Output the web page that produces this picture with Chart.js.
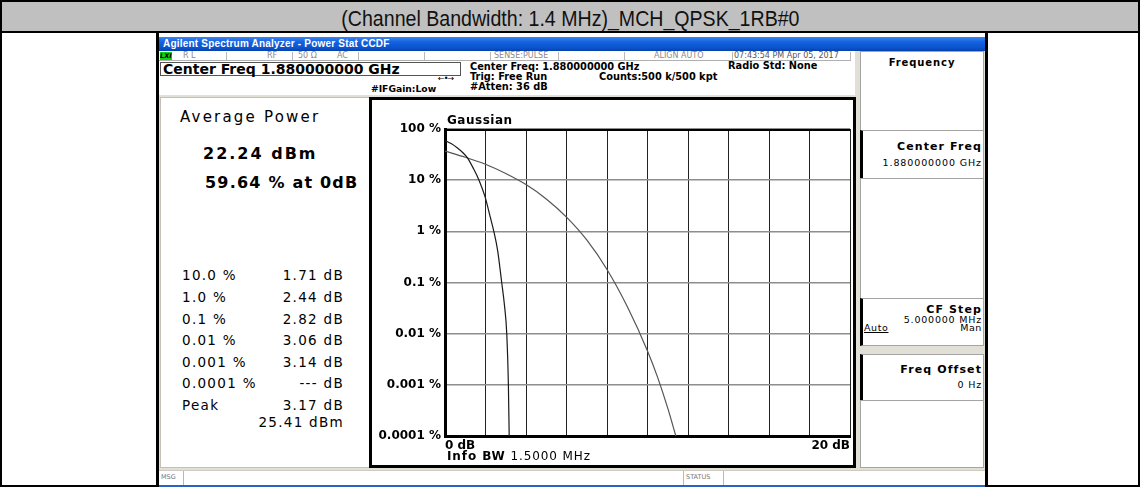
<!DOCTYPE html>
<html>
<head>
<meta charset="utf-8">
<script src="https://cdn.jsdelivr.net/npm/chart.js@4.4.1/dist/chart.umd.min.js"></script>
<style>
  body { margin: 0; width: 1140px; height: 487px; overflow: hidden; background: #fff; position: relative; font-family: "DejaVu Sans", sans-serif; color: #000; }
  .t { position: absolute; white-space: nowrap; line-height: 1; }
  .r { text-align: right; }
  .b { font-weight: bold; }
  .box { position: absolute; box-sizing: border-box; }
  .st { position: absolute; top: 51px; height: 10px; font-size: 8px; line-height: 10px; color: #8a8a8a; white-space: nowrap; }
  .sep { position: absolute; width: 1px; background: #b8b8b8; }
  .sk { position: absolute; left: 860px; width: 124px; box-sizing: border-box; background: #fff; border: 1px solid #a4a4a4; }
  .sk.on { border-left: 3px solid #000; }
</style>
</head>
<body>
<!-- report table frame -->
<div class="box" style="left:0;top:0;width:1140px;height:487px;border:2px solid #000;"></div>
<div class="box" style="left:0;top:0;width:1140px;height:33px;background:#c0c0c0;border:2px solid #000;"></div>
<div class="t" style="left:0;top:8px;width:1140px;text-align:center;">
  <span style="display:inline-block;font-family:'Liberation Sans',Arial,sans-serif;font-size:22px;transform:scaleX(0.89);color:#111;">(Channel Bandwidth: 1.4 MHz)_MCH_QPSK_1RB#0</span>
</div>
<div class="box" style="left:156px;top:31px;width:3px;height:456px;background:#000;"></div>
<div class="box" style="left:985px;top:31px;width:3px;height:456px;background:#000;"></div>

<!-- analyzer window -->
<div class="box" style="left:159px;top:37px;width:826px;height:14px;background:linear-gradient(#3c86f2,#1462e0 35%,#0a52cc 80%,#0840a8);"></div>
<div class="t b" style="left:163px;top:39px;font-size:10px;color:#fff;font-family:'Liberation Sans',Arial,sans-serif;letter-spacing:0.2px;">Agilent Spectrum Analyzer - Power Stat CCDF</div>

<!-- status row -->
<div class="box" style="left:159px;top:51px;width:692px;height:10px;border-bottom:1px solid #b0b0b0;"></div>
<div class="box" style="left:160px;top:52px;width:12px;height:8px;background:#10d010;"></div>
<div class="t b" style="left:160px;top:53px;font-size:6.5px;font-style:italic;">LXI</div>
<div class="st" style="left:183px;">R L</div>
<div class="st" style="left:267px;">RF</div>
<div class="st" style="left:298px;">50 Ω</div>
<div class="st" style="left:337px;">AC</div>
<div class="st" style="left:494px;">SENSE:PULSE</div>
<div class="st" style="left:654px;">ALIGN AUTO</div>
<div class="st" style="left:734px;color:#555;">07:43:54 PM Apr 05, 2017</div>
<div class="sep" style="left:226px;top:52px;height:9px;"></div>
<div class="sep" style="left:292px;top:52px;height:9px;"></div>
<div class="sep" style="left:358px;top:52px;height:9px;"></div>
<div class="sep" style="left:424px;top:52px;height:9px;"></div>
<div class="sep" style="left:490px;top:52px;height:9px;"></div>
<div class="sep" style="left:558px;top:52px;height:9px;"></div>
<div class="sep" style="left:624px;top:52px;height:9px;"></div>
<div class="sep" style="left:732px;top:52px;height:9px;"></div>
<div class="sep" style="left:850px;top:52px;height:9px;"></div>

<!-- header info -->
<div class="box" style="left:160px;top:62px;width:301px;height:14px;border:1px solid #555;"></div>
<div class="t b" style="left:163px;top:62px;font-size:14px;">Center Freq 1.880000000 GHz</div>
<div class="t b" style="left:470px;top:62px;font-size:9.8px;">Center Freq: 1.880000000 GHz</div>
<div class="t b" style="left:470px;top:72px;font-size:9.8px;">Trig: Free Run</div>
<div class="t b" style="left:470px;top:82px;font-size:9.8px;">#Atten: 36 dB</div>
<div class="t b" style="left:599px;top:72px;font-size:9.8px;">Counts:500 k/500 kpt</div>
<div class="t b" style="left:728px;top:61px;font-size:9.8px;">Radio Std: None</div>
<div class="t b" style="left:371px;top:84px;font-size:9.2px;">#IFGain:Low</div>
<div class="t" style="left:438px;top:75px;font-size:8px;letter-spacing:-1px;">←•→</div>

<!-- body background -->
<div class="box" style="left:855px;top:51px;width:130px;height:419px;background:#e2dfd6;"></div>
<div class="box" style="left:159px;top:95px;width:700px;height:375px;background:#e2dfd6;"></div>

<!-- left results panel -->
<div class="box" style="left:160px;top:97px;width:210px;height:371px;background:#fff;border:1px solid #c4c0b6;"></div>
<div class="t" style="left:180px;top:110px;font-size:15px;letter-spacing:2.2px;">Average Power</div>
<div class="t b" style="left:203px;top:146px;font-size:16px;letter-spacing:2px;">22.24 dBm</div>
<div class="t b" style="left:205px;top:175px;font-size:16px;letter-spacing:1.2px;">59.64 % at 0dB</div>
<div id="rows"></div>

<!-- chart box -->
<div class="box" style="left:369px;top:97px;width:487px;height:371px;background:#fff;border:3px solid #000;"></div>
<canvas id="ccdf" width="481" height="365" style="position:absolute;left:372px;top:100px;"></canvas>
<div class="t b" style="left:447px;top:114px;font-size:12px;letter-spacing:0.5px;">Gaussian</div>
<div class="t" style="left:447px;top:450px;font-size:12px;letter-spacing:0.9px;"><b>Info BW</b> 1.5000 MHz</div>

<!-- softkeys -->
<div class="sk" style="top:51px;height:80px;"></div>
<div class="t b" style="left:860px;width:124px;text-align:center;top:58px;font-size:10px;letter-spacing:0.9px;">Frequency</div>
<div class="sk on" style="top:130px;height:49px;"></div>
<div class="t b r" style="right:158px;top:141px;font-size:11px;letter-spacing:1.1px;">Center Freq</div>
<div class="t r" style="right:158px;top:158px;font-size:9.5px;letter-spacing:0.9px;">1.880000000 GHz</div>
<div class="sk" style="top:178px;height:121px;"></div>
<div class="sk on" style="top:298px;height:48px;"></div>
<div class="t b r" style="right:158px;top:304px;font-size:11px;letter-spacing:1.1px;">CF Step</div>
<div class="t r" style="right:158px;top:315px;font-size:9.5px;letter-spacing:0.8px;">5.000000 MHz</div>
<div class="t" style="left:864px;top:323px;font-size:9.5px;text-decoration:underline;letter-spacing:0.6px;">Auto</div>
<div class="t r" style="right:158px;top:323px;font-size:9.5px;letter-spacing:0.6px;">Man</div>
<div class="sk on" style="top:354px;height:47px;"></div>
<div class="t b r" style="right:158px;top:364px;font-size:11px;letter-spacing:1.1px;">Freq Offset</div>
<div class="t r" style="right:158px;top:380px;font-size:9.5px;letter-spacing:0.8px;">0 Hz</div>
<div class="sk" style="top:400px;height:68px;"></div>

<!-- bottom message bar -->
<div class="box" style="left:159px;top:470px;width:826px;height:15px;background:#fff;border-top:1px solid #cfcbc2;"></div>
<div class="t" style="left:161px;top:474px;font-size:6.5px;color:#777;">MSG</div>
<div class="sep" style="left:183px;top:471px;height:14px;"></div>
<div class="t" style="left:686px;top:474px;font-size:6.5px;color:#777;">STATUS</div>
<div class="sep" style="left:683px;top:471px;height:14px;"></div>
<div class="sep" style="left:723px;top:471px;height:14px;"></div>
<div class="box" style="left:159px;top:485px;width:826px;height:2px;background:#2a62c4;"></div>

<script>
// percentile table on the left panel
const rowLabels = ['10.0 %', '1.0 %', '0.1 %', '0.01 %', '0.001 %', '0.0001 %', 'Peak', ''];
const rowValues = ['1.71 dB', '2.44 dB', '2.82 dB', '3.06 dB', '3.14 dB', '--- dB', '3.17 dB', '25.41 dBm'];

// plot axes
const xTicks = [0, 2, 4, 6, 8, 10, 12, 14, 16, 18, 20];
const xTickLabels = { 0: '0 dB', 20: '20 dB' };
const yTicks = [100, 10, 1, 0.1, 0.01, 0.001, 0.0001];
const yTickLabels = ['100 %', '10 %', '1 %', '0.1 %', '0.01 %', '0.001 %', '0.0001 %'];

// measured CCDF trace (dB above average, % probability)
const measDb  = [0, 0.3, 0.6, 0.9, 1.1, 1.4, 1.68, 1.98, 2.22, 2.41, 2.6, 2.8, 2.94, 3.05, 3.13, 3.17];
const measPct = [59.64, 52, 43, 34, 27.5, 17, 10, 4.7, 2.0, 1.0, 0.42, 0.1, 0.035, 0.01, 0.001, 0.0001];

// gaussian reference trace
const gaussDb  = [0, 1, 2, 3, 4, 5, 6, 7, 8, 9, 10, 10.5, 11, 11.4];
const gaussPct = [37, 28, 20.5, 13.5, 8.2, 4.3, 1.9, 0.68, 0.18, 0.034, 0.0046, 0.0014, 0.00035, 0.0001];

const rowY = [276, 298, 319.5, 341, 362.5, 384, 406, 423];
const rows = document.getElementById('rows');
rowLabels.forEach((lab, i) => {
  const top = (rowY[i] - 7) + 'px';
  if (lab) {
    const l = document.createElement('div');
    l.className = 't';
    l.style.cssText = `left:182px;top:${top};font-size:13.5px;letter-spacing:1.3px;`;
    l.textContent = lab;
    rows.appendChild(l);
  }
  const v = document.createElement('div');
  v.className = 't r';
  v.style.cssText = `right:796px;top:${top};font-size:13.5px;letter-spacing:1.3px;`;
  v.textContent = rowValues[i];
  rows.appendChild(v);
});

const frame = {
  id: 'frame',
  afterDraw(c) {
    const { ctx, chartArea: a } = c;
    ctx.save();
    ctx.strokeStyle = '#000';
    ctx.lineWidth = 2;
    ctx.beginPath();
    ctx.moveTo(a.left, a.top + 1);
    ctx.lineTo(a.right, a.top + 1);
    ctx.stroke();
    ctx.restore();
  }
};

const tickFont = { family: 'DejaVu Sans', size: 12, weight: 'bold' };

new Chart(document.getElementById('ccdf').getContext('2d'), {
  type: 'line',
  data: {
    datasets: [
      {
        label: 'Measured',
        data: measDb.map((x, i) => ({ x, y: measPct[i] })),
        borderColor: '#1a1a1a',
        borderWidth: 1.2,
        pointRadius: 0,
        cubicInterpolationMode: 'monotone'
      },
      {
        label: 'Gaussian',
        data: gaussDb.map((x, i) => ({ x, y: gaussPct[i] })),
        borderColor: '#555',
        borderWidth: 1.2,
        pointRadius: 0,
        cubicInterpolationMode: 'monotone'
      }
    ]
  },
  options: {
    responsive: false,
    animation: false,
    layout: { padding: { top: 29, left: 0, right: 0, bottom: 0 } },
    plugins: { legend: { display: false }, tooltip: { enabled: false } },
    scales: {
      x: {
        type: 'linear',
        min: 0,
        max: 20,
        afterBuildTicks: s => { s.ticks = xTicks.map(v => ({ value: v })); },
        afterFit: s => { s.height = 29; },
        grid: { color: '#222', lineWidth: 1, drawTicks: false },
        border: { color: '#000', width: 3 },
        ticks: {
          align: 'inner', padding: 3, color: '#000', font: tickFont,
          maxRotation: 0, autoSkip: false,
          callback: v => xTickLabels[v] || ''
        }
      },
      y: {
        type: 'logarithmic',
        min: 0.0001,
        max: 100,
        afterBuildTicks: s => { s.ticks = yTicks.map(v => ({ value: v })); },
        afterFit: s => { s.width = 73; },
        grid: { color: '#8e8e8e', lineWidth: 1.5, drawTicks: false },
        border: { color: '#000', width: 3 },
        ticks: {
          padding: 4, color: '#000', font: tickFont, autoSkip: false,
          callback: v => {
            const i = yTicks.findIndex(t => Math.abs(t - v) / t < 1e-6);
            return i >= 0 ? yTickLabels[i] : '';
          }
        }
      }
    }
  },
  plugins: [frame]
});
</script>
</body>
</html>
